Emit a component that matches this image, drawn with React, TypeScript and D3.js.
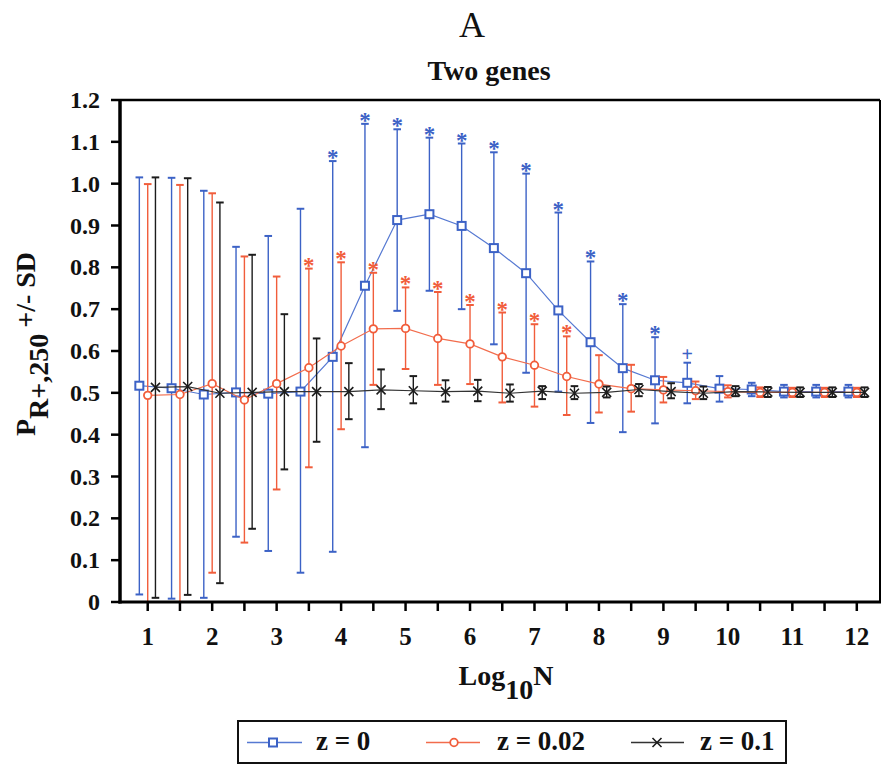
import React from "react";
import * as d3 from "d3";

// Log10 of population size, one entry per simulated point
const logN = [1, 1.5, 2, 2.5, 3, 3.5, 4, 4.5, 5, 5.5, 6, 6.5, 7, 7.5, 8, 8.5, 9, 9.5, 10, 10.5, 11, 11.5, 12];

// z = 0
const z0Mean = [0.517, 0.511, 0.496, 0.501, 0.498, 0.503, 0.586, 0.756, 0.913, 0.927, 0.899, 0.846, 0.786, 0.697, 0.621, 0.559, 0.530, 0.524, 0.510, 0.508, 0.503, 0.503, 0.503];
const z0Upper = [1.015, 1.014, 0.983, 0.849, 0.875, 0.940, 1.054, 1.143, 1.130, 1.110, 1.096, 1.075, 1.024, 0.931, 0.814, 0.712, 0.633, 0.572, 0.540, 0.524, 0.519, 0.519, 0.519];
const z0Lower = [0.018, 0.008, 0.010, 0.156, 0.122, 0.070, 0.120, 0.370, 0.696, 0.744, 0.700, 0.616, 0.548, 0.503, 0.428, 0.406, 0.427, 0.475, 0.479, 0.492, 0.489, 0.489, 0.489];
const z0Mark = ["", "", "", "", "", "", "*", "*", "*", "*", "*", "*", "*", "*", "*", "*", "*", "+", "", "", "", "", ""];

// z = 0.02
const z002Mean = [0.494, 0.496, 0.522, 0.483, 0.522, 0.560, 0.612, 0.653, 0.654, 0.630, 0.617, 0.586, 0.566, 0.539, 0.521, 0.510, 0.507, 0.505, 0.503, 0.501, 0.501, 0.501, 0.501];
const z002Upper = [0.999, 0.997, 0.977, 0.826, 0.778, 0.797, 0.812, 0.787, 0.752, 0.741, 0.710, 0.692, 0.664, 0.635, 0.590, 0.567, 0.538, 0.527, 0.518, 0.513, 0.512, 0.512, 0.512];
const z002Lower = [-0.011, -0.005, 0.070, 0.142, 0.269, 0.322, 0.413, 0.519, 0.557, 0.519, 0.521, 0.477, 0.467, 0.447, 0.453, 0.455, 0.477, 0.485, 0.489, 0.490, 0.490, 0.490, 0.490];
const z002Mark = ["", "", "", "", "", "*", "*", "*", "*", "*", "*", "*", "*", "*", "", "", "", "", "", "", "", "", ""];

// z = 0.1
const z01Mean = [0.513, 0.515, 0.499, 0.501, 0.503, 0.503, 0.503, 0.507, 0.505, 0.503, 0.504, 0.499, 0.504, 0.499, 0.501, 0.508, 0.503, 0.499, 0.503, 0.502, 0.501, 0.501, 0.501];
const z01Upper = [1.015, 1.013, 0.955, 0.830, 0.688, 0.630, 0.571, 0.556, 0.540, 0.530, 0.531, 0.520, 0.516, 0.516, 0.515, 0.521, 0.523, 0.515, 0.516, 0.514, 0.513, 0.513, 0.513];
const z01Lower = [0.010, 0.017, 0.045, 0.175, 0.317, 0.383, 0.437, 0.461, 0.475, 0.479, 0.480, 0.479, 0.485, 0.485, 0.489, 0.492, 0.487, 0.485, 0.492, 0.490, 0.490, 0.490, 0.490];

const yTicks = [0, 0.1, 0.2, 0.3, 0.4, 0.5, 0.6, 0.7, 0.8, 0.9, 1.0, 1.1, 1.2];
const yTickLabels = ["0", "0.1", "0.2", "0.3", "0.4", "0.5", "0.6", "0.7", "0.8", "0.9", "1.0", "1.1", "1.2"];
const xLabelTicks = [1, 2, 3, 4, 5, 6, 7, 8, 9, 10, 11, 12];

const W = 882;
const H = 766;
const plot = { left: 120, right: 880, top: 100, bottom: 602 };

const BLUE = "#3c62c6";
const BLUE_LINE = "#5679d2";
const RED = "#f15d3b";
const RED_LINE = "#f26c4c";
const BLACK = "#1c1c1c";
const FONT = "'Liberation Serif', 'Times New Roman', serif";

const x = d3.scaleLinear().domain([0.57, 12.36]).range([plot.left, plot.right]);
const y = d3.scaleLinear().domain([0, 1.2]).range([plot.bottom, plot.top]);

type Series = {
  key: string;
  mean: number[];
  upper: number[];
  lower: number[];
  marks: string[] | null;
  offset: number;
  color: string;
  lineColor: string;
  marker: "square" | "circle" | "cross";
};

const series: Series[] = [
  { key: "z0", mean: z0Mean, upper: z0Upper, lower: z0Lower, marks: z0Mark, offset: -0.13, color: BLUE, lineColor: BLUE_LINE, marker: "square" },
  { key: "z002", mean: z002Mean, upper: z002Upper, lower: z002Lower, marks: z002Mark, offset: 0, color: RED, lineColor: RED_LINE, marker: "circle" },
  { key: "z01", mean: z01Mean, upper: z01Upper, lower: z01Lower, marks: null, offset: 0.12, color: BLACK, lineColor: "#333", marker: "cross" },
];

function Marker({ type, cx, cy, color }: { type: string; cx: number; cy: number; color: string }) {
  if (type === "square") {
    return <rect x={cx - 4} y={cy - 4} width={8} height={8} fill="#fff" stroke={color} strokeWidth={2} />;
  }
  if (type === "circle") {
    return <circle cx={cx} cy={cy} r={3.8} fill="#fff" stroke={color} strokeWidth={1.8} />;
  }
  return (
    <path
      d={`M${cx - 4.5},${cy - 4.5}L${cx + 4.5},${cy + 4.5}M${cx - 4.5},${cy + 4.5}L${cx + 4.5},${cy - 4.5}`}
      stroke={color}
      strokeWidth={1.6}
      fill="none"
    />
  );
}

function SeriesGroup({ s }: { s: Series }) {
  const line = d3
    .line<number>()
    .x((_, i) => x(logN[i] + s.offset))
    .y((d) => y(d));
  const cap = 3.8;
  return (
    <g>
      <g clipPath="url(#plotClip)">
        {s.mean.map((_, i) => {
          const cx = x(logN[i] + s.offset);
          const yu = y(s.upper[i]);
          const yl = y(s.lower[i]);
          return (
            <g key={i} stroke={s.color}>
              <line x1={cx} x2={cx} y1={yu} y2={yl} strokeWidth={1.4} />
              <line x1={cx - cap} x2={cx + cap} y1={yu} y2={yu} strokeWidth={2} />
              <line x1={cx - cap} x2={cx + cap} y1={yl} y2={yl} strokeWidth={2} />
            </g>
          );
        })}
      </g>
      <path d={line(s.mean) || ""} fill="none" stroke={s.lineColor} strokeWidth={1.2} />
      {s.mean.map((v, i) => (
        <Marker key={i} type={s.marker} cx={x(logN[i] + s.offset)} cy={y(v)} color={s.color} />
      ))}
      {s.marks &&
        s.marks.map((m, i) =>
          m ? (
            <text
              key={i}
              x={x(logN[i] + s.offset)}
              y={y(s.upper[i]) + (m === "*" ? 4 : -2)}
              textAnchor="middle"
              fontFamily={FONT}
              fontWeight="bold"
              fontSize={m === "*" ? 23 : 20}
              fill={s.color}
            >
              {m}
            </text>
          ) : null
        )}
    </g>
  );
}

export default function App() {
  return (
    <div style={{ position: "absolute", left: 0, top: 0, width: W, height: H, background: "#fff" }}>
      <svg width={W} height={H} style={{ display: "block" }} fontFamily={FONT}>
        <defs>
          <clipPath id="plotClip">
            <rect x={plot.left} y={plot.top} width={plot.right - plot.left} height={plot.bottom - plot.top} />
          </clipPath>
        </defs>

        <text x={472} y={37} textAnchor="middle" fontSize={36} fill="#111">
          A
        </text>
        <text x={489} y={80} textAnchor="middle" fontSize={28} fontWeight="bold" fill="#111">
          Two genes
        </text>

        {/* frame */}
        <line x1={plot.left} x2={plot.right} y1={plot.top} y2={plot.top} stroke="#000" strokeWidth={2.5} />
        <line x1={plot.right} x2={plot.right} y1={plot.top} y2={plot.bottom} stroke="#000" strokeWidth={2} />

        {/* series */}
        {series.map((s) => (
          <SeriesGroup key={s.key} s={s} />
        ))}

        {/* axes */}
        <line x1={plot.left} x2={plot.left} y1={plot.top - 1} y2={plot.bottom + 1.5} stroke="#000" strokeWidth={3.5} />
        <line x1={plot.left - 1.5} x2={plot.right + 1} y1={plot.bottom} y2={plot.bottom} stroke="#000" strokeWidth={3} />

        {yTicks.map((t, i) => (
          <g key={t}>
            <line x1={plot.left - 9} x2={plot.left} y1={y(t)} y2={y(t)} stroke="#000" strokeWidth={2.5} />
            <text x={100} y={y(t) + 8} textAnchor="end" fontSize={24} fontWeight="bold" fill="#111">
              {yTickLabels[i]}
            </text>
          </g>
        ))}

        {logN.map((t) => (
          <line key={t} x1={x(t)} x2={x(t)} y1={plot.bottom} y2={plot.bottom + 9} stroke="#000" strokeWidth={2.5} />
        ))}
        {xLabelTicks.map((t) => (
          <text key={t} x={x(t)} y={645} textAnchor="middle" fontSize={25} fontWeight="bold" fill="#111">
            {String(t)}
          </text>
        ))}

        {/* axis titles */}
        <text x={506} y={685} textAnchor="middle" fontSize={28} fontWeight="bold" fill="#111">
          <tspan>Log</tspan>
          <tspan dy={14}>10</tspan>
          <tspan dy={-14}>N</tspan>
        </text>
        <text transform="translate(35,344) rotate(-90)" textAnchor="middle" fontSize={28} fontWeight="bold" fill="#111">
          <tspan>P</tspan>
          <tspan dy={13}>R+,250</tspan>
          <tspan dy={-13} dx={6}>+/- SD</tspan>
        </text>

        {/* legend */}
        <rect x={238} y={721} width={548} height={42} fill="#fff" stroke="#111" strokeWidth={2} />
        <line x1={247} x2={302} y1={742.5} y2={742.5} stroke={BLUE_LINE} strokeWidth={1.3} />
        <Marker type="square" cx={273} cy={742.5} color={BLUE} />
        <text x={316} y={750} fontSize={27} fontWeight="bold" fill="#111">z = 0</text>

        <line x1={426} x2={480} y1={742.5} y2={742.5} stroke={RED_LINE} strokeWidth={1.3} />
        <Marker type="circle" cx={454} cy={742.5} color={RED} />
        <text x={497} y={750} fontSize={27} fontWeight="bold" fill="#111">z = 0.02</text>

        <line x1={631} x2={684} y1={742.5} y2={742.5} stroke="#333" strokeWidth={1.3} />
        <Marker type="cross" cx={657} cy={742.5} color={BLACK} />
        <text x={700} y={750} fontSize={27} fontWeight="bold" fill="#111">z = 0.1</text>
      </svg>
    </div>
  );
}
